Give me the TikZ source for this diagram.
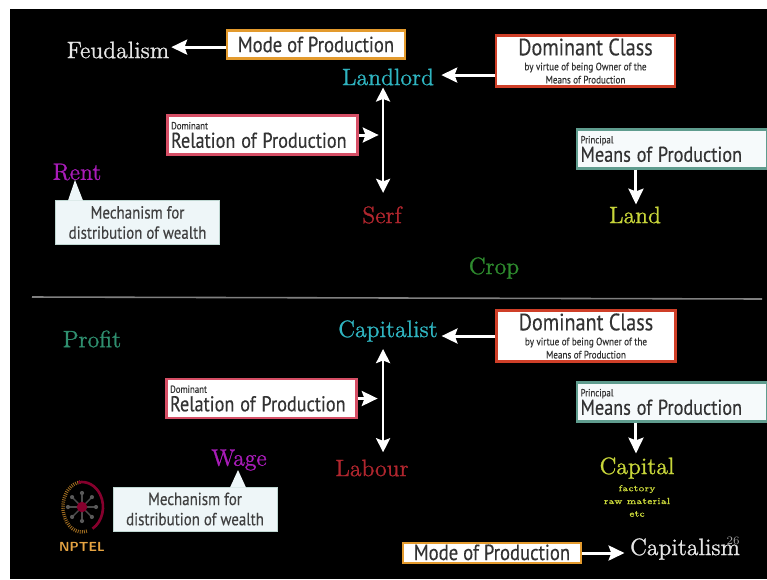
\documentclass[tikz,border=0pt]{standalone}
\usepackage{fontspec}
\newfontfamily\boxfont{PT Sans}[FakeStretch=0.85,FakeBold=0.3]
\newfontfamily\wordfont{Latin Modern Roman}[FakeBold=1]
\usetikzlibrary{arrows.meta}
\definecolor{modeline}{HTML}{E39A2D}
\definecolor{classline}{HTML}{CF3F28}
\definecolor{relline}{HTML}{D64F66}
\definecolor{meansline}{HTML}{5F9C8E}
\definecolor{paleblue}{HTML}{EEF6F8}
\definecolor{cyantext}{HTML}{2FB4C0}
\definecolor{redtext}{HTML}{B0262E}
\definecolor{limetext}{HTML}{C8D63A}
\definecolor{purptext}{HTML}{A81CB8}
\definecolor{greentext}{HTML}{2E8B2E}
\definecolor{tealtext}{HTML}{2F8F6F}
\tikzset{
  blockarrow/.style={white,line width=1.7pt,-{Stealth[length=9pt,width=8.5pt,inset=1.5pt]}},
  botharrow/.style={white,line width=1.5pt,{Stealth[length=8pt,width=8pt,inset=1.5pt]}-{Stealth[length=8pt,width=8pt,inset=1.5pt]}},
  modebox/.style={draw=modeline,fill=white,line width=1.3pt,minimum width=3.56cm,inner sep=0pt,font=\boxfont\fontsize{12.5}{13}\selectfont\color{black!80}},
  classbox/.style={draw=classline,fill=white,line width=1.3pt,minimum width=3.58cm,minimum height=1.02cm,inner sep=0pt,align=center,font=\boxfont\color{black!80}},
  relbox/.style={draw=relline,fill=white,line width=1.3pt,text width=3.66cm,inner xsep=2pt,inner ysep=0pt,minimum height=0.78cm,align=left,font=\boxfont\color{black!80}},
  meansbox/.style={relbox,draw=meansline,fill=paleblue!50},
  mechbox/.style={fill=paleblue,draw=meansline!40,line width=.4pt,minimum width=3.28cm,minimum height=.88cm,inner sep=0pt,align=center,font=\boxfont\fontsize{10}{11.5}\selectfont\color{black!75}},
  word/.style={inner sep=1pt,font=\wordfont\fontsize{13.5}{14}\selectfont},
  smallword/.style={inner sep=0pt,limetext,font=\wordfont\fontsize{5}{6}\selectfont}
}
\newcommand{\boxtext}[2]{\fontsize{5.9}{5}\selectfont #1\\[-1.5pt]\fontsize{12.2}{10.5}\selectfont #2}
\newcommand{\classtext}{\fontsize{13.5}{10}\selectfont Dominant Class\\[-3.5pt]\fontsize{6.1}{6.3}\selectfont by virtue of being Owner of the\\[-4.5pt]\fontsize{6.1}{6.3}\selectfont Means of Production}
\begin{document}
\begin{tikzpicture}[x=0.02cm,y=-0.02cm]
\useasboundingbox (0,0) rectangle (767,579);
\fill[white] (0,0) rectangle (767,579);
\fill[black] (10,9) rectangle (767,579);
%top half
\node[word,white!90!black] (feudalism) at (118,50) {Feudalism};
\node[modebox,minimum height=.56cm] (modeA) at (316,44.5) {Mode of Production};
\node[word,cyantext] (landlord) at (388,77) {Landlord};
\node[classbox] (classA) at (585.5,61) {\classtext};
\node[relbox] (relationA) at (262.5,135) {\boxtext{Dominant}{Relation of Production}};
\node[word,redtext] (serf) at (382,215) {Serf};
\node[meansbox] (meansA) at (672,149) {\boxtext{Principal}{Means of Production}};
\node[word,limetext] (land) at (635,215) {Land};
\node[word,greentext] (crop) at (494,268) {Crop};
\node[word,purptext] (rent) at (77,172) {Rent};
\node[mechbox] (mechA) at (137.5,222.5) {Mechanism for\\distribution of wealth};
\fill[paleblue] (68,200.5) -- (75,180) -- (83,200.5) -- cycle;
\draw[blockarrow] ([yshift=-1.5pt]modeA.west) -- ([yshift=-1.5pt]modeA.west -| feudalism.east);
\draw[blockarrow] ([yshift=-8pt]classA.west) -- ([yshift=-8pt,xshift=3pt]classA.west -| landlord.east);
\draw[blockarrow] (relationA.east) -- ++(20,0) coordinate (relationtipA);
\draw[botharrow] ([xshift=-2.8pt]landlord.south) -- ([xshift=-2.8pt,yshift=6.5pt]landlord.south |- serf.north);
\draw[blockarrow] ([xshift=-20.5pt]meansA.south) -- ([xshift=-20.5pt]meansA.south |- land.north);
%divider
\coordinate (dividerleft) at (32,297);
\coordinate (dividerright) at (762,299);
\draw[gray,line width=.9pt] (dividerleft) -- (dividerright);
%bottom half
\node[word,tealtext] (profit) at (92,339) {Profit};
\node[word,cyantext] (capitalist) at (388,331) {Capitalist};
\node[classbox] (classB) at (586,336) {\classtext};
\node[relbox] (relationB) at (261.5,398.5) {\boxtext{Dominant}{Relation of Production}};
\node[word,redtext] (labour) at (372,468) {Labour};
\node[meansbox] (meansB) at (672,402) {\boxtext{Principal}{Means of Production}};
\node[word,limetext] (capital) at (637,468) {Capital};
\node[smallword] (factory) at (637,489) {factory};
\node[smallword] (rawmaterial) at (637,501) {raw material};
\node[smallword] (etc) at (637,514) {etc};
\node[word,purptext] (wage) at (239,460) {Wage};
\node[mechbox] (mechB) at (195,509) {Mechanism for\\distribution of wealth};
\fill[paleblue] (230,487.5) -- (238,470) -- (246,487.5) -- cycle;
\node[modebox,minimum height=.4cm,text height=8pt,text depth=0pt] (modeB) at (492,553) {Mode of Production};
\node[word,white!90!black] (capitalism) at (685,549) {Capitalism};
\node[inner sep=0pt,gray!70,font=\fontsize{6.5}{7}\selectfont] (slidenum) at (733,541) {26};
\draw[blockarrow] (classB.west) -- ([xshift=1pt]classB.west -| capitalist.east);
\draw[blockarrow] (relationB.east) -- ++(20,0) coordinate (relationtipB);
\draw[botharrow] ([xshift=-2.8pt,yshift=-3pt]capitalist.south) -- ([xshift=-2.8pt,yshift=3pt]capitalist.south |- labour.north);
\draw[blockarrow] ([xshift=-20.5pt]meansB.south) -- ([xshift=-20.5pt,yshift=1pt]meansB.south |- capital.north);
\draw[blockarrow] (modeB.east) -- ([xshift=-2pt]modeB.east -| capitalism.west);
%logo
\coordinate (logocentre) at (82,507);
\draw[modeline!70!black,line width=2pt,dash pattern=on .5pt off .7pt] (logocentre) ++(75:19 and 25) arc (75:265:19 and 25);
\draw[purple!70!black,line width=1.5pt] (logocentre) ++(60:21 and 25) arc (60:-100:21 and 25);
\foreach \ang in {0,45,...,315}{
  \draw[gray!60!black,line width=.8pt] (logocentre) -- ++(\ang:13);
  \fill[gray!70!black] (logocentre) ++(\ang:14) circle (1.2pt);
}
\fill[purple!70!black] (logocentre) circle (3pt);
\node[inner sep=0pt,modeline!90!white,font=\sffamily\bfseries\fontsize{7.5}{8}\selectfont] (nptel) at (82,547) {NPTEL};
\end{tikzpicture}
\end{document}
